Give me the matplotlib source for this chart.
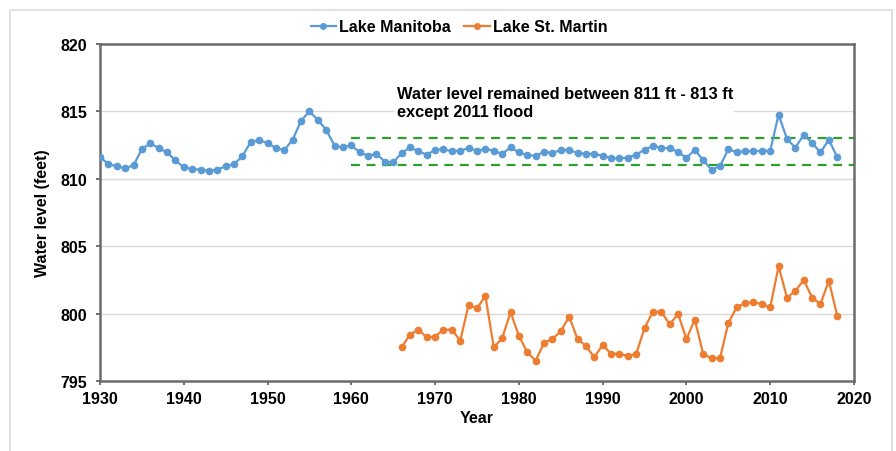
import matplotlib
matplotlib.use("Agg")
import matplotlib.pyplot as plt
from matplotlib.patches import Rectangle
from matplotlib.lines import Line2D

plt.rcParams['font.family'] = ['Liberation Sans', 'DejaVu Sans']

manitoba_years = list(range(1930, 2019))
manitoba_levels = [
    811.6, 811.1, 810.93, 810.78, 811.0, 812.2, 812.63, 812.28, 811.96, 811.37,
    810.85, 810.73, 810.68, 810.6, 810.68, 810.93, 811.1, 811.67, 812.75, 812.88,
    812.65, 812.28, 812.14, 812.9, 814.31, 815.0, 814.36, 813.64, 812.46, 812.33,
    812.5, 811.96, 811.71, 811.86, 811.27, 811.22, 811.91, 812.33, 812.04, 811.79,
    812.14, 812.2, 812.04, 812.09, 812.28, 812.09, 812.2, 812.09, 811.84, 812.33,
    811.96, 811.76, 811.71, 812.0, 811.91, 812.14, 812.14, 811.91, 811.86, 811.84,
    811.71, 811.52, 811.52, 811.57, 811.79, 812.16, 812.43, 812.31, 812.26, 812.0,
    811.54, 812.16, 811.37, 810.68, 810.93, 812.2, 811.96, 812.06, 812.06, 812.06,
    812.09, 814.76, 812.95, 812.31, 813.27, 812.65, 811.96, 812.9, 811.6,
]

stmartin_years = list(range(1966, 2019))
stmartin_levels = [
    797.5, 798.44, 798.81, 798.24, 798.29, 798.81, 798.81, 797.99, 800.66, 800.39,
    801.31, 797.5, 798.17, 800.1, 798.36, 797.13, 796.51, 797.82, 798.12, 798.69,
    799.77, 798.12, 797.6, 796.76, 797.68, 797.02, 797.02, 796.85, 797.0, 798.93,
    800.14, 800.14, 799.2, 799.97, 798.12, 799.55, 797.0, 796.68, 796.68, 799.3,
    800.47, 800.79, 800.84, 800.71, 800.47, 803.51, 801.18, 801.68, 802.49, 801.18,
    800.71, 802.44, 799.84,
]

band_years = [1960, 2020]
band_low = 811
band_high = 813

x_ticks = [1930, 1940, 1950, 1960, 1970, 1980, 1990, 2000, 2010, 2020]
y_ticks = [795, 800, 805, 810, 815, 820]

blue = '#5B9BD5'
orange = '#ED7D31'

W, H = 896, 452
fig = plt.figure(figsize=(W / 100, H / 100), dpi=100)
fig.patch.set_facecolor('white')

# outer light frame
fig.patches.append(Rectangle((10 / W, -0.01), (892 - 10) / W, 1 - 11 / H + 0.01,
                             transform=fig.transFigure, fill=False,
                             edgecolor='#dcdcdc', lw=1.2))

ax = fig.add_axes([100 / W, 1 - 382 / H, (854 - 100) / W, (382 - 45) / H])

for yv in [800, 805, 810, 815]:
    ax.axhline(yv, color='#d9d9d9', lw=1.0, zorder=0)

ax.plot(band_years, [band_high, band_high], color='#2ca02c', ls=(0, (4, 3)), lw=1.6, zorder=2)
ax.plot(band_years, [band_low, band_low], color='#2ca02c', ls=(0, (4, 3)), lw=1.6, zorder=2)

ax.plot(manitoba_years, manitoba_levels, color=blue, marker='o', markersize=4.5,
        lw=1.6, zorder=3)
ax.plot(stmartin_years, stmartin_levels, color=orange, marker='o', markersize=4.5,
        lw=1.6, zorder=3)

ax.set_xlim(1930, 2020)
ax.set_ylim(795, 820)
ax.set_xticks(x_ticks)
ax.set_yticks(y_ticks)
ax.tick_params(axis='both', labelsize=11.5, color='#595959', length=3, width=1.2,
               direction='out')
ax.tick_params(axis='y', pad=6)
ax.tick_params(axis='x', pad=4)
for lab in ax.get_xticklabels() + ax.get_yticklabels():
    lab.set_fontweight('bold')
for sp in ax.spines.values():
    sp.set_color('#6b6b6b')
    sp.set_linewidth(1.8)

ax.set_xlabel('Year', fontsize=11.5, fontweight='bold', labelpad=3)
ax.set_ylabel('Water level (feet)', fontsize=11.5, fontweight='bold', labelpad=8)

ax.text(1965.4, 815.65, 'Water level remained between 811 ft - 813 ft\nexcept 2011 flood',
        fontsize=11.8, fontweight='bold', ha='left', va='center', linespacing=1.2,
        bbox=dict(facecolor='white', edgecolor='none', pad=1.0), zorder=4)

handles = [Line2D([], [], color=blue, marker='o', markersize=4, lw=1.6),
           Line2D([], [], color=orange, marker='o', markersize=4, lw=1.6)]
fig.legend(handles, ['Lake Manitoba', 'Lake St. Martin'], loc='center',
           bbox_to_anchor=(459 / W, 1 - 28 / H), ncol=2, frameon=False,
           prop={'size': 11.5, 'weight': 'bold'}, handlelength=1.6,
           handletextpad=0.2, columnspacing=0.8)

fig.savefig('out.png', dpi=100, facecolor='white')
